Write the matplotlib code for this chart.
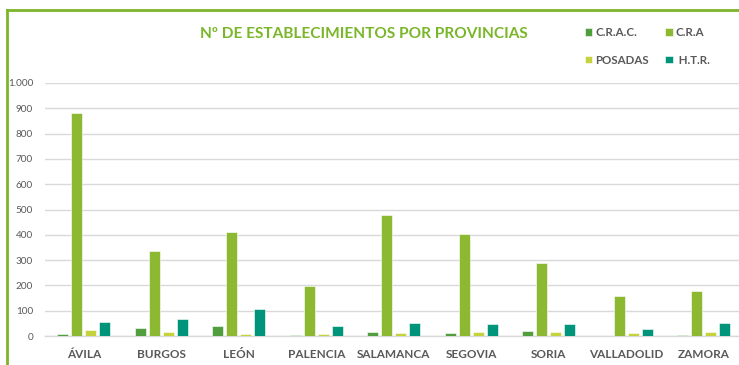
import matplotlib.pyplot as plt
import numpy as np
from matplotlib.lines import Line2D
from matplotlib.ticker import FuncFormatter, MultipleLocator

plt.rcParams['font.family'] = ['Lato', 'DejaVu Sans']

# Datos por provincia
provincias = ['ÁVILA', 'BURGOS', 'LEÓN', 'PALENCIA', 'SALAMANCA',
              'SEGOVIA', 'SORIA', 'VALLADOLID', 'ZAMORA']
crac = [9, 32, 38, 5, 16, 13, 21, 1, 4]
cra = [882, 335, 410, 199, 478, 402, 290, 157, 179]
posadas = [24, 17, 9, 9, 12, 17, 17, 13, 17]
htr = [55, 68, 106, 38, 51, 47, 48, 28, 52]

series = ['C.R.A.C.', 'C.R.A', 'POSADAS', ' H.T.R.']
colores = ['#509E3D', '#8CB832', '#C4D33B', '#00957A']

fig = plt.figure(figsize=(7.39, 3.65), dpi=100)
ax = fig.add_axes([45 / 739, 29 / 365, 697.5 / 739, 253 / 365])

x = np.arange(len(provincias))
paso = 0.18
ancho = 0.14
barras = []
for i, (vals, nombre, color) in enumerate(zip([crac, cra, posadas, htr], series, colores)):
    b = ax.bar(x + (i - 1.5) * paso, vals, ancho, color=color, label=nombre,
               edgecolor='white', linewidth=0.4, zorder=3)
    barras.append(b)

ax.set_xlim(-0.5, len(provincias) - 0.5)
ax.set_ylim(0, 1000)
ax.yaxis.set_major_locator(MultipleLocator(100))
ax.yaxis.set_major_formatter(FuncFormatter(lambda v, p: f'{v:,.0f}'.replace(',', '.')))
ax.grid(axis='y', color='#D9D9D9', linewidth=1, zorder=0)
for s in ['top', 'right', 'left']:
    ax.spines[s].set_visible(False)
ax.spines['bottom'].set_color('#D9D9D9')
ax.spines['bottom'].set_linewidth(1)
ax.tick_params(axis='both', length=0)
ax.tick_params(axis='y', labelsize=7.2, labelcolor='#595959', pad=8.5)
ax.set_xticks(x)
ax.set_xticklabels(provincias, fontsize=8.5, fontweight='bold', color='#595959')
ax.tick_params(axis='x', pad=9)

fig.text(363.5 / 739, 1 - 34 / 365, 'Nº DE ESTABLECIMIENTOS POR PROVINCIAS',
         ha='center', va='center', fontsize=11.1, fontweight='bold', color='#7AB629')

# leyenda en dos columnas (orden por columnas)
orden = [0, 2, 1, 3]
fig.legend([barras[i] for i in orden], [series[i] for i in orden], ncol=2,
           loc='upper left', bbox_to_anchor=(585 / 739, 1 - 27 / 365),
           frameon=False, handlelength=0.62, handleheight=0.62,
           handletextpad=0.3, columnspacing=1.4, labelspacing=1.45,
           borderpad=0, borderaxespad=0,
           prop={'size': 8.3, 'weight': 'bold'}, labelcolor='#595959')

# marco verde superior e izquierdo
fig.add_artist(Line2D([7 / 739, 1], [1 - 9.5 / 365, 1 - 9.5 / 365], color='#7AB629',
                      linewidth=2, transform=fig.transFigure))
fig.add_artist(Line2D([7 / 739, 7 / 739], [0, 1 - 9.5 / 365], color='#7AB629',
                      linewidth=2, transform=fig.transFigure))

fig.savefig('out.png', dpi=100)
